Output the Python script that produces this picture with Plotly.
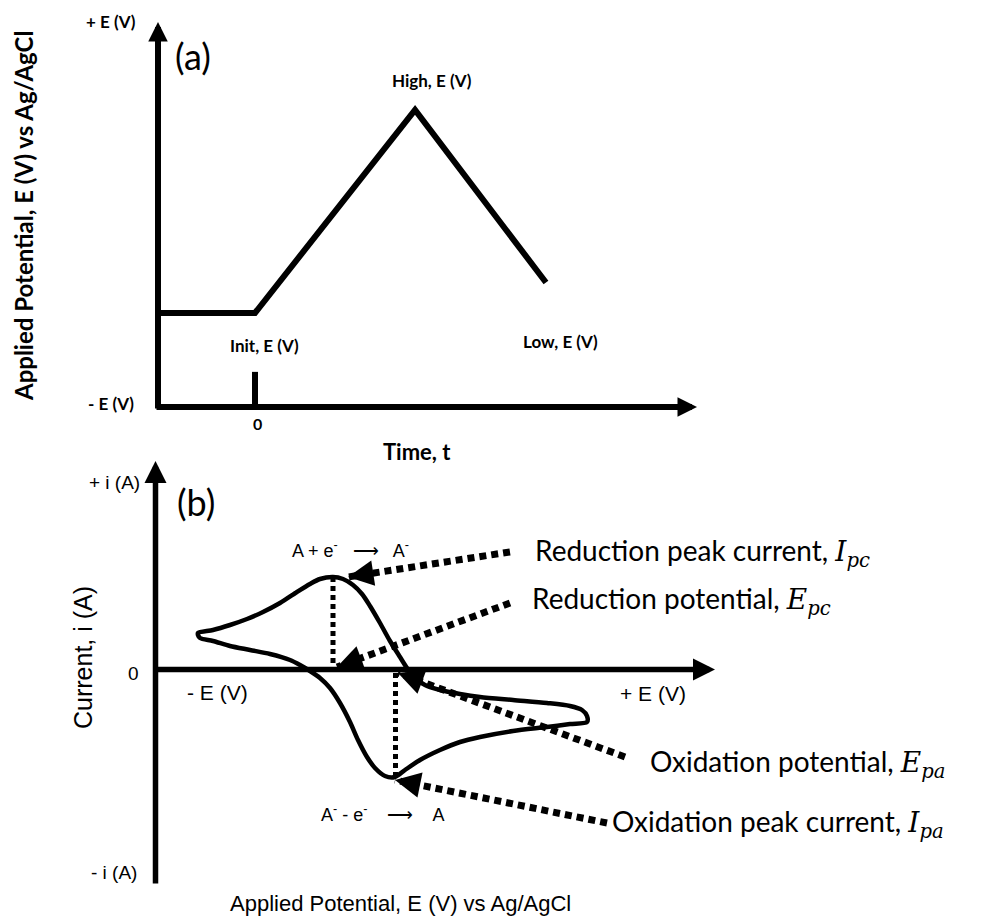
import math as m
import plotly.graph_objects as go

W, H = 988, 920

# ---- Panel (a): applied potential waveform versus time ----
wave_time = [-1.0, 0.0, 1.65, 3.0]
wave_potential = [0.0, 0.0, 1.0, 0.15]          # Init, Init, High, Low (V)

# ---- Panel (b): cyclic voltammogram (E in V, i in µA) ----
cv_fwd_E = [-0.210, -0.180, -0.146, -0.112, -0.080, -0.046, -0.012, 0.014, 0.034, 0.060,
            0.080, 0.100, 0.118, 0.134, 0.154, 0.174, 0.194, 0.208, 0.224, 0.244,
            0.274, 0.314, 0.354, 0.420, 0.488, 0.534, 0.558, 0.568, 0.568]
cv_fwd_i = [7.2, 7.8, 8.8, 10.0, 11.4, 13.2, 15.4, 17.0, 18.0, 18.4,
            18.0, 16.8, 15.0, 12.6, 9.2, 5.6, 2.4, 0.2, -1.8, -3.2,
            -4.2, -5.0, -5.6, -6.2, -6.8, -7.4, -8.2, -9.4, -10.6]
cv_rev_E = [0.534, 0.488, 0.420, 0.354, 0.314, 0.274, 0.234, 0.204, 0.184, 0.164,
            0.144, 0.128, 0.110, 0.094, 0.074, 0.054, 0.034, 0.014, -0.006, -0.026,
            -0.066, -0.106, -0.146, -0.180, -0.206, -0.210]
cv_rev_i = [-11.0, -11.6, -12.4, -13.6, -14.6, -16.2, -18.2, -20.2, -21.6, -21.4,
            -19.8, -17.6, -14.2, -10.6, -6.8, -3.8, -1.8, -0.4, 0.8, 1.8,
            3.0, 3.8, 4.6, 5.6, 6.2, 6.8]

# Peak positions (E, i)
cath_peak = (0.060, 18.4)
anod_peak = (0.185, -21.6)

# Dotted call-out arrows: tail -> tip, in (E, i)
callout_labels = ["Reduction peak current", "Reduction potential",
                  "Oxidation potential", "Oxidation peak current"]
callout_tail_E = [0.414, 0.414, 0.644, 0.608]
callout_tail_i = [23.4, 13.2, -17.6, -30.8]
callout_tip_E = [0.090, 0.068, 0.190, 0.184]
callout_tip_i = [18.4, 0.4, -0.8, -22.2]

BOLD = "Lato"
SANS = "Liberation Sans"

# axis windows (panel b): potential and current ranges
E_RANGE = [-0.295, 0.824]
I_RANGE = [-43.2, 41.6]
B_X = [155.5, 715]      # pixel extent of the potential axis
B_Y = [885, 461]        # pixel extent of the current axis (bottom, top)


def px(x):
    return x / W


def py(y):
    return 1 - y / H


fig = go.Figure()

# waveform
fig.add_trace(go.Scatter(x=wave_time, y=wave_potential, mode="lines",
                         line=dict(color="black", width=6), xaxis="x", yaxis="y",
                         hoverinfo="skip"))

# voltammogram loop
loop_E = cv_fwd_E + cv_rev_E + [cv_fwd_E[0]]
loop_i = cv_fwd_i + cv_rev_i + [cv_fwd_i[0]]
fig.add_trace(go.Scatter(x=loop_E, y=loop_i, mode="lines",
                         line=dict(color="black", width=4.5, shape="spline", smoothing=0.8),
                         xaxis="x2", yaxis="y2", hoverinfo="skip"))

# vertical dotted drop lines from the peaks to the potential axis
for E, ip in (cath_peak, anod_peak):
    fig.add_trace(go.Scatter(x=[E, E], y=[ip, 0], mode="lines",
                             line=dict(color="black", width=5, dash="5px,4px"),
                             xaxis="x2", yaxis="y2", hoverinfo="skip"))

annotations = []

# dotted call-out lines, each finished with a solid arrowhead at its tip
sx = (B_X[1] - B_X[0]) / (E_RANGE[1] - E_RANGE[0])
sy = (B_Y[0] - B_Y[1]) / (I_RANGE[1] - I_RANGE[0])
for k in range(len(callout_labels)):
    fig.add_trace(go.Scatter(
        x=[callout_tail_E[k], callout_tip_E[k]],
        y=[callout_tail_i[k], callout_tip_i[k]],
        mode="lines",
        line=dict(color="black", width=7, dash="7px,5px"),
        xaxis="x2", yaxis="y2", hoverinfo="skip"))
    dxp = (callout_tail_E[k] - callout_tip_E[k]) * sx
    dyp = -(callout_tail_i[k] - callout_tip_i[k]) * sy
    n = m.hypot(dxp, dyp)
    annotations.append(dict(xref="x2", yref="y2", x=callout_tip_E[k], y=callout_tip_i[k],
                            ax=dxp / n * 26, ay=dyp / n * 26, text="", showarrow=True,
                            arrowhead=2, arrowsize=0.85, arrowwidth=6, arrowcolor="black"))

# tick at t = 0 on the time axis
fig.add_shape(type="line", xref="x", yref="y", x0=0, x1=0, y0=-0.463, y1=-0.29,
              line=dict(color="black", width=6))


def axis_arrow(x_tip, y_tip, dx, dy, width, size):
    annotations.append(dict(xref="paper", yref="paper", x=px(x_tip), y=py(y_tip),
                            ax=dx, ay=dy, axref="pixel", ayref="pixel", text="",
                            showarrow=True, arrowhead=2, arrowsize=size,
                            arrowwidth=width, arrowcolor="black"))


# panel (a) axes
axis_arrow(158, 22, 0, 388, 6, 0.65)
axis_arrow(697, 407, -542, 0, 6, 0.65)
# panel (b) axes
axis_arrow(B_X[0], B_Y[1], 0, B_Y[0] - B_Y[1], 5.5, 0.8)
axis_arrow(B_X[1], 669.5, -(B_X[1] - 153), 0, 5.5, 0.8)


def label(text, x, y, size, family, xanchor="center", bold=False, angle=0):
    if bold:
        text = "<b>" + text + "</b>"
    annotations.append(dict(xref="paper", yref="paper", x=px(x), y=py(y), text=text,
                            showarrow=False, xanchor=xanchor, yanchor="middle",
                            textangle=angle,
                            font=dict(family=family, size=size, color="black")))


# panel (a) text
label("(a)", 193, 56, 36, BOLD)
label("+ E (V)", 111, 22, 17, BOLD, bold=True)
label("- E (V)", 111, 403, 17, BOLD, bold=True)
label("0", 257, 423, 16, BOLD, bold=True)
label("Init, E (V)", 264, 345, 17, BOLD, bold=True)
label("High, E (V)", 432, 81, 17, BOLD, bold=True)
label("Low, E (V)", 560, 341, 17, BOLD, bold=True)
label("Time, t", 417, 451, 22, BOLD, bold=True)
label("Applied Potential, E (V) vs Ag/AgCl", 24, 216, 24, BOLD, bold=True, angle=-90)

# panel (b) text
label("(b)", 196, 502, 36, BOLD)
label("+ i (A)", 114, 482, 19, SANS)
label("0", 133, 673, 19, SANS)
label("- i (A)", 114, 872, 19, SANS)
label("- E (V)", 217, 692, 21, SANS)
label("+ E (V)", 653, 693, 21, SANS)
label("Current, i (A)", 83, 658, 25, SANS, angle=-90)
label("Applied Potential, E (V) vs Ag/AgCl", 400, 903, 22, SANS)
label("A + e<sup>-</sup>   \u27f6   A<sup>-</sup>", 350, 549, 18, SANS)
label("A<sup>-</sup> - e<sup>-</sup>    \u27f6    A", 382, 813, 18, SANS)


def math(sym, sub):
    return ('<span style="font-family:DejaVu Serif"><i>' + sym + '</i><sub><i>'
            + sub + '</i></sub></span>')


label("Reduction peak current, " + math("I", "pc"), 533, 552, 28, BOLD, xanchor="left")
label("Reduction potential, " + math("E", "pc"), 530, 600, 28, BOLD, xanchor="left")
label("Oxidation potential, " + math("E", "pa"), 648, 763, 28, BOLD, xanchor="left")
label("Oxidation peak current, " + math("I", "pa"), 610, 823, 28, BOLD, xanchor="left")

hidden = dict(visible=False, showgrid=False, zeroline=False, fixedrange=True)

fig.update_layout(
    width=W, height=H, margin=dict(l=0, r=0, t=0, b=0), autosize=False,
    paper_bgcolor="white", plot_bgcolor="white", showlegend=False,
    xaxis=dict(domain=[px(158), px(697)], range=[-1.0, 4.557], anchor="y", **hidden),
    yaxis=dict(domain=[py(407), py(22)], range=[-0.463, 1.433], anchor="x", **hidden),
    xaxis2=dict(domain=[px(B_X[0]), px(B_X[1])], range=E_RANGE, anchor="y2", **hidden),
    yaxis2=dict(domain=[py(B_Y[0]), py(B_Y[1])], range=I_RANGE, anchor="x2", **hidden),
    annotations=annotations,
)

fig.write_html("out.html")
